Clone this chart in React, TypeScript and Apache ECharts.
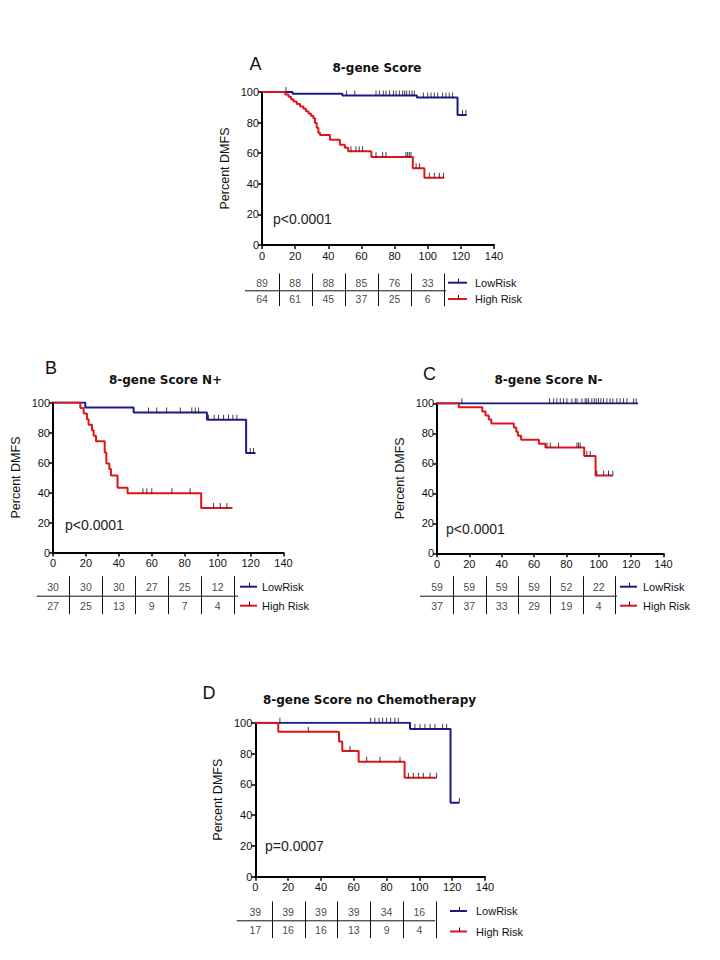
import React, { useEffect, useRef } from "react";
import * as echarts from "echarts";

// ---------- data ----------
const xTickMin = 0;
const xTickMax = 140;
const xTickStep = 20;
const yTickMin = 0;
const yTickMax = 100;
const yTickStep = 20;
const atRiskTimes = [0, 20, 40, 60, 80, 100];
const separatorTimes = [10, 30, 50, 70, 90, 110];

// Panel A: 8-gene Score
const aLowSteps = [[0, 100], [18.5, 98.9], [48.5, 97.7], [93.5, 96.4], [118, 84.9], [123.5, 84.9]];
const aLowCensor = [14.5, 51, 56, 68.8, 70.8, 73.2, 74.8, 76.9, 79.3, 80.9, 82.9, 84.9, 86.1, 87.3, 88.9, 90.5, 91.9, 97.4, 100, 102, 104, 106, 109, 111, 113, 115, 121, 123];
const aHighSteps = [[0, 100], [14, 98.4], [16, 96.9], [17.5, 95.3], [19, 93.8], [21, 92.2], [23, 90.6], [25, 89.1], [26.5, 87.5], [28, 85.9], [29.5, 84.4], [31, 82.8], [32, 79.7], [33, 76.6], [34, 73.4], [35, 71.9], [41, 68.8], [47, 65.6], [50, 63.5], [52, 61.3], [66, 57.5], [91, 50.2], [98, 43.9], [110, 43.9]];
const aHighCensor = [53.7, 56.7, 58.7, 60.7, 68.8, 72.8, 74.8, 86.9, 87.9, 88.9, 89.9, 93, 95, 101, 104, 107, 109.5];
const aLowAtRisk = [89, 88, 88, 85, 76, 33];
const aHighAtRisk = [64, 61, 45, 37, 25, 6];

// Panel B: 8-gene Score N+
const bLowSteps = [[0, 100], [19.6, 96.7], [49, 93.3], [93.5, 88.5], [117.3, 66.4], [123, 66.4]];
const bLowCensor = [58, 63, 69, 77.3, 84.3, 86.4, 88.4, 94.5, 97.9, 100.5, 103.6, 106.6, 109.2, 111.7, 119.8, 121.8];
const bHighSteps = [[0, 100], [16.6, 96.3], [18.6, 92.6], [20.6, 88.9], [21.6, 85.2], [23.7, 81.5], [24.7, 77.8], [26.1, 74.1], [31.4, 66.7], [32.4, 59.3], [34.2, 55.6], [35.2, 51.4], [39.2, 43.2], [45.3, 39.5], [90, 29.6], [109, 29.6]];
const bHighCensor = [54.6, 57, 60, 72.2, 83.3, 97.5, 101.6, 105.6];
const bLowAtRisk = [30, 30, 30, 27, 25, 12];
const bHighAtRisk = [27, 25, 13, 9, 7, 4];

// Panel C: 8-gene Score N-
const cLowSteps = [[0, 100], [124.2, 100]];
const cLowCensor = [15.4, 69.6, 72.1, 74.1, 76.2, 78.2, 80.3, 83.4, 85.5, 86.5, 89.6, 91.6, 92.6, 93.7, 95.7, 97.2, 98.4, 99.8, 101.3, 102.9, 105, 107, 108.7, 111.2, 113.2, 115.3, 117.4, 121.5, 123.1];
const cHighSteps = [[0, 100], [13.5, 97.3], [28, 94.6], [30, 91.9], [32, 89.2], [33.6, 86.5], [47.5, 83.8], [49, 81.1], [50, 78.4], [52, 75.7], [63, 73.0], [67, 70.6], [91, 64.9], [98, 51.8], [108.7, 51.8]];
const cHighCensor = [68, 70, 75.1, 86.5, 87.5, 88.5, 92.6, 94.7, 98.8, 103, 106, 108.7];
const cLowAtRisk = [59, 59, 59, 59, 52, 22];
const cHighAtRisk = [37, 37, 33, 29, 19, 4];

// Panel D: 8-gene Score no Chemotherapy
const dLowSteps = [[0, 100], [94.3, 95.9], [119, 48], [124.4, 48]];
const dLowCensor = [15, 70.3, 72.9, 75.4, 77.6, 80, 82.5, 85.1, 87.2, 97.3, 100.4, 103.4, 106.5, 109.5, 114.2, 116.6, 124.4];
const dHighSteps = [[0, 100], [14, 94.1], [51, 87.8], [53, 81.6], [63, 74.7], [91, 64.2], [110.5, 64.2]];
const dHighCensor = [32.3, 57.7, 67.9, 76, 88.2, 93.3, 96.3, 99.4, 102.4, 106.5, 110.5];
const dLowAtRisk = [39, 39, 39, 39, 34, 16];
const dHighAtRisk = [17, 16, 16, 13, 9, 4];

const panelTitles = ["8-gene Score", "8-gene Score N+", "8-gene Score N-", "8-gene Score no Chemotherapy"];
const panelLetters = ["A", "B", "C", "D"];
const pValues = ["p<0.0001", "p<0.0001", "p<0.0001", "p=0.0007"];
const groupNames = ["LowRisk", "High Risk"];
const yAxisTitle = "Percent DMFS";

// ---------- styling / layout ----------
const BLUE = "#1a1a8e";
const RED = "#e0141c";
const TICK = "#111111";
const FONT = "Liberation Sans, Arial, sans-serif";

const panels = [
  {
    low: aLowSteps, lowC: aLowCensor, high: aHighSteps, highC: aHighCensor, lowR: aLowAtRisk, highR: aHighAtRisk,
    grid: { left: 262, top: 92, width: 232, height: 153 },
    table: { left: 262, top: 274.5, width: 232, height: 32.6 },
    title: [377, 68], letter: [255.5, 63.5], p: [273, 219],
    hline: [245, 446], legend: { x1: 448, x2: 467, text: 475, y1: 282.7, y2: 299 },
  },
  {
    low: bLowSteps, lowC: bLowCensor, high: bHighSteps, highC: bHighCensor, lowR: bLowAtRisk, highR: bHighAtRisk,
    grid: { left: 53, top: 402.5, width: 230.5, height: 150 },
    table: { left: 53, top: 577.2, width: 230.5, height: 38 },
    title: [165.5, 380], letter: [51, 368], p: [65, 525],
    hline: [36.7, 238], legend: { x1: 240, x2: 257, text: 262, y1: 586.7, y2: 605.7 },
  },
  {
    low: cLowSteps, lowC: cLowCensor, high: cHighSteps, highC: cHighCensor, lowR: cLowAtRisk, highR: cHighAtRisk,
    grid: { left: 437, top: 403.3, width: 226.5, height: 150 },
    table: { left: 437, top: 577.2, width: 226.5, height: 38 },
    title: [548.5, 380], letter: [429.5, 374], p: [446, 529],
    hline: [420, 617], legend: { x1: 620, x2: 637, text: 643, y1: 586.7, y2: 605.7 },
  },
  {
    low: dLowSteps, lowC: dLowCensor, high: dHighSteps, highC: dHighCensor, lowR: dLowAtRisk, highR: dHighAtRisk,
    grid: { left: 255.3, top: 722.7, width: 229.7, height: 154 },
    table: { left: 255.3, top: 902.5, width: 229.7, height: 36.6 },
    title: [369.5, 700], letter: [209, 692.5], p: [265, 846],
    hline: [236.7, 435], legend: { x1: 450, x2: 467, text: 476, y1: 911, y2: 931.5 },
  },
];

function survAt(steps: number[][], t: number): number {
  let v = steps[0][1];
  for (const s of steps) {
    if (s[0] <= t) v = s[1];
  }
  return v;
}

export default function App() {
  const ref = useRef<HTMLDivElement>(null);
  useEffect(() => {
    document.body.style.margin = "0";
    if (!ref.current) return;
    const chart = echarts.init(ref.current, undefined, { renderer: "svg" });

    const grids: any[] = [];
    const xAxes: any[] = [];
    const yAxes: any[] = [];
    const series: any[] = [];

    panels.forEach((pn, i) => {
      const gi = i * 2;
      const ti = i * 2 + 1;
      grids.push({ ...pn.grid, containLabel: false });
      grids.push({ ...pn.table, containLabel: false });
      xAxes.push({
        gridIndex: gi, type: "value", min: xTickMin, max: xTickMax, interval: xTickStep,
        axisLine: { show: true, onZero: false, lineStyle: { color: "#000", width: 2 } },
        axisTick: { show: true, length: 4, lineStyle: { color: "#000", width: 1.5 } },
        axisLabel: { color: "#111", fontSize: 11, fontFamily: FONT, margin: 5 },
        splitLine: { show: false },
      });
      yAxes.push({
        gridIndex: gi, type: "value", min: yTickMin, max: yTickMax, interval: yTickStep,
        name: yAxisTitle, nameLocation: "middle", nameGap: 31, nameRotate: 90,
        nameTextStyle: { color: "#111", fontSize: 12.5, fontFamily: FONT },
        axisLine: { show: true, onZero: false, lineStyle: { color: "#000", width: 2 } },
        axisTick: { show: true, length: 4, lineStyle: { color: "#000", width: 1.5 } },
        axisLabel: { color: "#111", fontSize: 11, fontFamily: FONT, margin: 3 },
        splitLine: { show: false },
      });
      xAxes.push({ gridIndex: ti, type: "value", min: xTickMin, max: xTickMax, show: false });
      yAxes.push({ gridIndex: ti, type: "value", min: 0, max: 2, show: false });

      const addKM = (steps: number[][], cens: number[], color: string) => {
        series.push({
          type: "line", xAxisIndex: gi, yAxisIndex: gi, data: steps, step: "end",
          showSymbol: false, symbol: "none", silent: true,
          lineStyle: { color, width: 2 }, z: 2,
        });
        series.push({
          type: "scatter", xAxisIndex: gi, yAxisIndex: gi,
          data: cens.map((t) => [t, survAt(steps, t)]),
          symbol: "rect", symbolSize: [1, 5], symbolOffset: [0, -2.5],
          itemStyle: { color: TICK }, silent: true, z: 3,
        });
      };
      addKM(pn.low, pn.lowC, BLUE);
      addKM(pn.high, pn.highC, RED);

      const tableData: any[] = [];
      atRiskTimes.forEach((t, k) => {
        tableData.push([t, 1.5, pn.lowR[k]]);
        tableData.push([t, 0.5, pn.highR[k]]);
      });
      series.push({
        type: "scatter", xAxisIndex: ti, yAxisIndex: ti, data: tableData,
        symbolSize: 1, itemStyle: { color: "rgba(0,0,0,0)" }, silent: true,
        label: {
          show: true, position: "inside", color: "#111", fontSize: 10.5, fontFamily: FONT,
          formatter: (p: any) => String(p.data[2]),
        },
      });
    });

    chart.setOption({
      animation: false,
      backgroundColor: "#ffffff",
      grid: grids,
      xAxis: xAxes,
      yAxis: yAxes,
      series,
    });

    const graphics: any[] = [];
    panels.forEach((pn, i) => {
      const ti = i * 2 + 1;
      // title, letter, p-value
      graphics.push({
        type: "text", x: pn.title[0], y: pn.title[1],
        style: { text: panelTitles[i], fontSize: 12, fontWeight: "bold", fontFamily: "DejaVu Sans, sans-serif", fill: "#111", align: "center", verticalAlign: "middle" },
      });
      graphics.push({
        type: "text", x: pn.letter[0], y: pn.letter[1],
        style: { text: panelLetters[i], fontSize: 18, fontFamily: FONT, fill: "#111", align: "center", verticalAlign: "middle" },
      });
      graphics.push({
        type: "text", x: pn.p[0], y: pn.p[1],
        style: { text: pValues[i], fontSize: 14, fontFamily: FONT, fill: "#222", align: "left", verticalAlign: "middle" },
      });
      // table lines
      const mid = chart.convertToPixel({ gridIndex: ti } as any, [0, 1]) as number[];
      graphics.push({
        type: "line", shape: { x1: pn.hline[0], y1: mid[1], x2: pn.hline[1], y2: mid[1] },
        style: { stroke: "#111", lineWidth: 1 },
      });
      separatorTimes.forEach((t) => {
        const top = chart.convertToPixel({ gridIndex: ti } as any, [t, 2]) as number[];
        const bot = chart.convertToPixel({ gridIndex: ti } as any, [t, 0]) as number[];
        graphics.push({
          type: "line", shape: { x1: Math.round(top[0]) + 0.5, y1: top[1] - 1, x2: Math.round(top[0]) + 0.5, y2: bot[1] - 1 },
          style: { stroke: "#111", lineWidth: 1 },
        });
      });
      // legend
      const lg = pn.legend;
      [[lg.y1, BLUE, groupNames[0]], [lg.y2, RED, groupNames[1]]].forEach(([y, color, name]: any) => {
        graphics.push({
          type: "line", shape: { x1: lg.x1, y1: y, x2: lg.x2, y2: y },
          style: { stroke: color, lineWidth: 2 },
        });
        const cx = Math.round((lg.x1 + lg.x2) / 2) + 0.5;
        graphics.push({
          type: "line", shape: { x1: cx, y1: y - 4, x2: cx, y2: y },
          style: { stroke: TICK, lineWidth: 1 },
        });
        graphics.push({
          type: "text", x: lg.text, y,
          style: { text: name, fontSize: 11, fontFamily: FONT, fill: "#111", align: "left", verticalAlign: "middle" },
        });
      });
    });

    chart.setOption({ graphic: graphics });

    return () => {
      chart.dispose();
    };
  }, []);

  return <div ref={ref} style={{ width: 720, height: 960 }} />;
}
